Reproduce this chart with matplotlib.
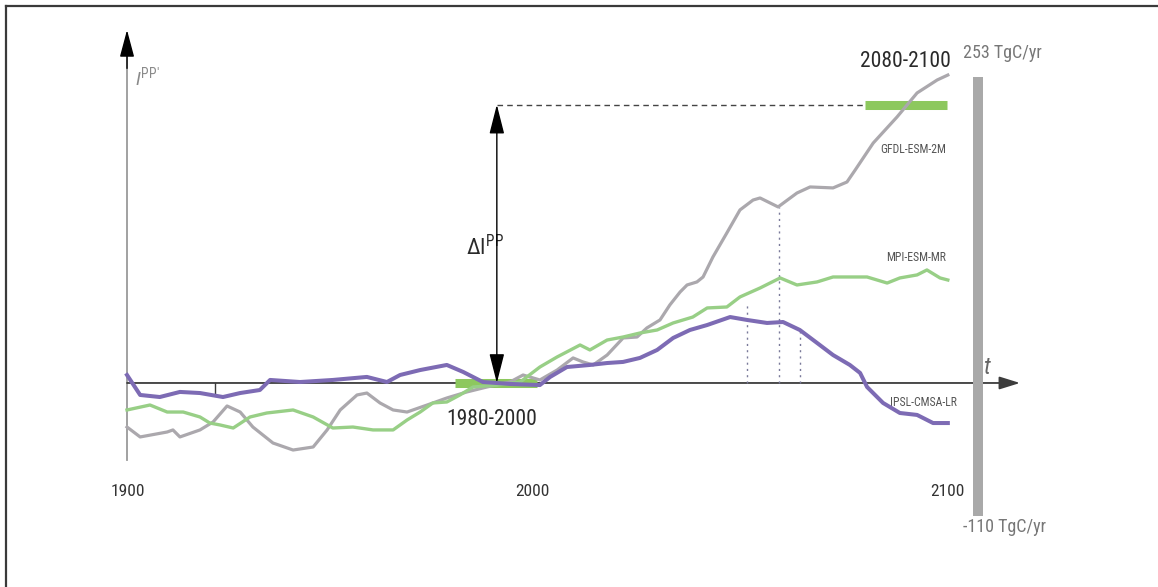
import matplotlib
matplotlib.use("Agg")
import matplotlib.pyplot as plt
from matplotlib.lines import Line2D
from matplotlib.patches import FancyArrowPatch

# ---- model trajectories of the index (TgC/yr anomaly vs. 1980-2000) ----
ipsl_years = [1900.0, 1903.2, 1908.0, 1912.9, 1917.8, 1923.4, 1927.6, 1932.4, 1934.9, 1942.2,
              1950.2, 1958.5, 1963.4, 1966.6, 1971.5, 1978.0, 1982.0, 1986.8, 1993.4, 2000.7,
              2003.2, 2007.3, 2012.9, 2017.1, 2021.0, 2025.1, 2029.3, 2033.2, 2037.3, 2041.5,
              2047.1, 2051.2, 2056.1, 2060.0, 2064.1, 2068.3, 2072.2, 2076.3, 2078.8, 2080.5,
              2084.4, 2088.5, 2092.7, 2096.6, 2100.2]
ipsl_vals = [6.6, -9.9, -11.6, -7.4, -8.3, -11.6, -8.3, -5.8, 2.5, 0.8,
             2.5, 5.0, 0.8, 6.6, 10.7, 14.9, 9.1, 0.8, -0.8, -1.7,
             5.0, 13.2, 14.9, 16.5, 17.4, 20.7, 27.3, 37.2, 43.8, 47.9,
             54.5, 52.1, 49.6, 50.4, 43.8, 33.1, 23.1, 14.9, 8.3, -3.3,
             -16.5, -24.8, -26.4, -33.1, -33.1]

mpi_years = [1900.0, 1905.6, 1909.8, 1913.7, 1917.8, 1920.2, 1922.7, 1925.9, 1930.0, 1934.1,
             1940.5, 1945.4, 1950.2, 1955.1, 1960.0, 1964.9, 1968.3, 1971.5, 1974.6, 1978.0,
             1981.2, 1984.4, 1990.2, 1995.9, 2000.7, 2004.9, 2010.5, 2012.9, 2017.1, 2021.0,
             2025.1, 2029.3, 2033.2, 2038.0, 2041.5, 2046.3, 2049.5, 2054.4, 2059.3, 2063.4,
             2068.3, 2072.2, 2076.3, 2080.5, 2085.4, 2088.5, 2092.7, 2095.1, 2098.3, 2100.2]
mpi_vals = [-22.3, -18.2, -24.0, -24.0, -28.1, -33.1, -34.7, -37.2, -28.1, -24.8,
            -22.3, -28.1, -37.2, -36.4, -38.8, -38.8, -30.6, -24.0, -16.5, -15.7,
            -9.9, -3.3, -1.7, 0.8, 13.2, 21.5, 31.4, 27.3, 35.5, 38.0,
            41.3, 43.8, 49.6, 54.5, 62.0, 62.8, 71.1, 78.5, 86.8, 81.0,
            83.5, 87.6, 87.6, 87.6, 82.6, 86.8, 89.3, 93.4, 86.8, 85.1]

gfdl_years = [1900.0, 1903.2, 1909.8, 1911.2, 1912.9, 1917.8, 1921.0, 1924.4, 1927.6, 1930.7,
              1935.6, 1940.5, 1945.4, 1948.8, 1952.0, 1956.1, 1958.5, 1961.7, 1964.9, 1968.3,
              1973.2, 1978.0, 1982.9, 1987.8, 1993.4, 1996.6, 2000.7, 2004.9, 2008.8, 2011.2,
              2013.7, 2017.1, 2021.0, 2024.4, 2026.8, 2030.0, 2032.4, 2034.9, 2036.6, 2039.0,
              2040.5, 2042.9, 2046.3, 2049.5, 2052.7, 2054.4, 2058.8, 2063.4, 2066.6, 2072.2,
              2075.6, 2077.6, 2082.0, 2087.8, 2092.7, 2097.6, 2100.2]
gfdl_vals = [-36.4, -44.6, -40.5, -38.8, -44.6, -38.8, -32.2, -19.0, -24.0, -36.4,
             -49.6, -55.4, -52.9, -38.8, -22.3, -9.9, -8.3, -16.5, -22.3, -24.0,
             -18.2, -12.4, -7.4, -3.3, 0.8, 6.6, 2.5, 10.7, 20.7, 17.4,
             14.9, 23.1, 37.2, 38.0, 45.5, 52.1, 64.5, 75.2, 81.0, 83.5,
             87.6, 104.1, 124.0, 143.0, 151.2, 152.9, 145.5, 157.0, 162.0, 161.2,
             166.1, 176.0, 198.3, 219.8, 239.7, 250.4, 254.5]

model_names = ["GFDL-ESM-2M", "MPI-ESM-MR", "IPSL-CMSA-LR"]

# reference and future averaging windows, and the change between them
ref_window = (1980, 2000)
fut_window = (2080, 2100)
delta_level = 230.0
delta_year = 1990.2

# overall range of the index across models
range_max = 253
range_min = -110
range_year = 2107.6

marker_years = [2051.2, 2059.0, 2064.1]
marker_tops = [67.0, 145.5, 43.8]

year_labels = ["1900", "2000", "2100"]
year_label_pos = [1900.2, 1999.0, 2100.0]

# ---- colours ----
c_ipsl = "#7d6bb4"
c_mpi = "#98cf86"
c_gfdl = "#aba8ad"
c_bar = "#8dc85e"
c_range = "#a9a9a9"

narrow = ["Roboto Condensed", "Liberation Sans Narrow", "Roboto", "DejaVu Sans"]
plt.rcParams["mathtext.fontset"] = "custom"
plt.rcParams["mathtext.rm"] = "Roboto Condensed"
plt.rcParams["mathtext.it"] = "Roboto Condensed:italic"
plt.rcParams["mathtext.sf"] = "Roboto Condensed"

fig = plt.figure(figsize=(11.58, 5.87), dpi=100)
ax = fig.add_axes([0, 0, 1, 1])
ax.set_xlim(1869.02, 2151.46)
ax.set_ylim(-168.6, 316.5)
ax.axis("off")

# frame around the panel
fig.add_artist(Line2D([6 / 1158, 6 / 1158], [0, 1 - 6 / 587], transform=fig.transFigure,
                      color="#3a3a3a", lw=1.6))
fig.add_artist(Line2D([6 / 1158, 1], [1 - 6 / 587, 1 - 6 / 587], transform=fig.transFigure,
                      color="#3a3a3a", lw=1.6))

# vertical axis with arrow
ax.plot([1900, 1900], [-63.6, 275], color="#9a9a9a", lw=1.3, zorder=2)
ax.add_patch(FancyArrowPatch((1900, 260), (1900, 291.7), arrowstyle="-|>,head_length=1.2,head_width=0.32",
                             mutation_scale=14, color="black", lw=1.0, shrinkA=0, shrinkB=0, zorder=3))
# time axis with arrow
ax.add_patch(FancyArrowPatch((1900, 0), (2117.8, 0), arrowstyle="-|>,head_length=0.9,head_width=0.28",
                             mutation_scale=14, color="#3c3c3c", lw=1.3, shrinkA=0, shrinkB=0, zorder=2))
ax.plot([1921.5, 1921.5], [0, -8], color="#3c3c3c", lw=1.0)

# averaging windows
ax.plot(list(ref_window), [0, 0], color=c_bar, lw=6.5, solid_capstyle="butt", zorder=3)
ax.plot(list(fut_window), [delta_level, delta_level], color=c_bar, lw=6.5, solid_capstyle="butt", zorder=3)

# model trajectories
ax.plot(gfdl_years, gfdl_vals, color=c_gfdl, lw=2.3, zorder=4)
ax.plot(mpi_years, mpi_vals, color=c_mpi, lw=2.4, zorder=5)
ax.plot(ipsl_years, ipsl_vals, color=c_ipsl, lw=2.9, zorder=6)

# dotted read-off lines
for yr, top in zip(marker_years, marker_tops):
    ax.plot([yr, yr], [0, top], color="#7a7a9a", lw=1.0, ls=(0, (1.5, 3)), zorder=3)

# change between windows
ax.plot([delta_year, fut_window[0]], [delta_level, delta_level], color="#444444", lw=1.0,
        ls=(0, (4, 3)), zorder=3)
ax.add_patch(FancyArrowPatch((delta_year, 0), (delta_year, delta_level),
                             arrowstyle="<|-|>,head_length=1.3,head_width=0.33",
                             mutation_scale=14, color="black", lw=1.0, shrinkA=0, shrinkB=0, zorder=7))

# overall range bar
ax.plot([range_year, range_year], [range_min, range_max], color=c_range, lw=7.2,
        solid_capstyle="butt", zorder=3)

# ---- text ----
ax.text(1902.0, 252, r"$\mathit{I}^{\mathrm{PP}\prime}$", fontsize=14, color="#8a8a8a",
        ha="left", va="center")

ax.text(1982.6, 113, r"$\Delta\mathrm{I}^{\mathrm{PP}}$", fontsize=16, color="#2a2a2a",
        ha="left", va="center")

ax.text(1989.0, -30.0, f"{ref_window[0]}-{ref_window[1]}", fontsize=15.5, color="#2a2a2a",
        family=narrow, ha="center", va="center")
ax.text(2089.8, 266, f"{fut_window[0]}-{fut_window[1]}", fontsize=15.5, color="#2a2a2a",
        family=narrow, ha="center", va="center")

ax.text(2103.9, 272.5, f"{range_max} TgC/yr", fontsize=13, color="#777777", family=narrow,
        ha="left", va="center")
ax.text(2103.9, -119, f"{range_min} TgC/yr", fontsize=13, color="#777777", family=narrow,
        ha="left", va="center")

for lab, pos in zip(year_labels, year_label_pos):
    ax.text(pos, -89.5, lab, fontsize=12.5, color="#333333", family=narrow, ha="center", va="center")

ax.text(2109.5, 13, "t", fontsize=17, style="italic", color="#666666", family=narrow,
        ha="center", va="center")

ax.text(2099.8, 193, model_names[0], fontsize=8.5, color="#555555", family=narrow, ha="right", va="center")
ax.text(2099.8, 104, model_names[1], fontsize=8.5, color="#555555", family=narrow, ha="right", va="center")
ax.text(2102.3, -16.5, model_names[2], fontsize=8.5, color="#555555", family=narrow, ha="right", va="center")

fig.savefig("out.png", dpi=100, facecolor="white")
